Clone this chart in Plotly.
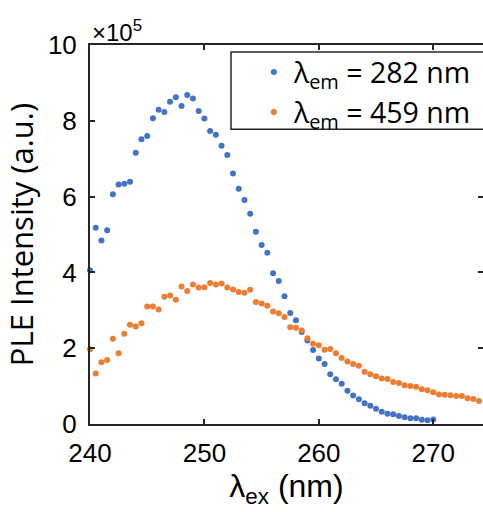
import plotly.graph_objects as go

# Excitation wavelengths (nm)
x_blue = [240 + 0.5 * i for i in range(61)]        # 240 .. 270
x_orange = [240 + 0.5 * i for i in range(69)]      # 240 .. 274

# PLE intensity, units of 1e5
y_blue = [4.06, 5.18, 4.84, 5.11, 6.06, 6.32, 6.34, 6.39, 7.16, 7.51,
          7.60, 8.07, 8.29, 8.23, 8.50, 8.62, 8.39, 8.68, 8.59, 8.26,
          8.06, 7.73, 7.63, 7.34, 7.10, 6.61, 6.21, 5.91, 5.55, 5.07,
          4.72, 4.52, 3.98, 3.77, 3.37, 2.93, 2.74, 2.43, 2.20, 1.95,
          1.73, 1.58, 1.31, 1.18, 1.06, 0.88, 0.75, 0.65, 0.55, 0.48,
          0.40, 0.32, 0.27, 0.26, 0.21, 0.18, 0.15, 0.15, 0.11, 0.10,
          0.12]
y_orange = [1.97, 1.33, 1.63, 1.69, 2.25, 1.87, 2.38, 2.62, 2.57, 2.66,
            3.10, 3.10, 3.02, 3.36, 3.39, 3.28, 3.63, 3.51, 3.68, 3.60,
            3.61, 3.72, 3.68, 3.71, 3.60, 3.55, 3.48, 3.46, 3.54, 3.22,
            3.18, 3.12, 2.97, 2.92, 2.82, 2.55, 2.54, 2.47, 2.26, 2.12,
            2.08, 1.96, 1.98, 1.87, 1.74, 1.65, 1.58, 1.54, 1.38, 1.31,
            1.26, 1.20, 1.19, 1.11, 1.08, 1.02, 1.00, 0.98, 0.92, 0.89,
            0.84, 0.78, 0.77, 0.76, 0.74, 0.74, 0.68, 0.66, 0.61]

x_ticks = [240, 250, 260, 270]
y_ticks = [0, 2, 4, 6, 8, 10]

BLUE = "#4472C4"
ORANGE = "#ED7D31"
AX = "#262626"
SANS = "Liberation Sans, Arial, sans-serif"
UI = "Open Sans, Noto Sans, sans-serif"

fig = go.Figure()
fig.add_trace(go.Scatter(x=x_blue, y=y_blue, mode="markers", cliponaxis=False,
                         marker=dict(color=BLUE, size=6),
                         name="λ<sub>em</sub> = 282 nm"))
fig.add_trace(go.Scatter(x=x_orange, y=y_orange, mode="markers", cliponaxis=False,
                         marker=dict(color=ORANGE, size=6),
                         name="λ<sub>em</sub> = 459 nm"))

fig.update_layout(
    width=483, height=512,
    margin=dict(l=90, r=0, t=45, b=88, autoexpand=False),
    plot_bgcolor="white", paper_bgcolor="white",
    showlegend=True,
    legend=dict(x=0.417, y=0.995, xanchor="left", yanchor="top",
                borderwidth=0, bgcolor="rgba(0,0,0,0)",
                font=dict(family=UI, size=28.5, color="black"),
                tracegroupgap=0, itemwidth=30),
    shapes=[dict(type="rect", xref="paper", yref="paper",
                 x0=0.3588, x1=1.05, y0=0.778, y1=0.9815,
                 line=dict(color=AX, width=1.5), fillcolor="white",
                 layer="above")],
    xaxis=dict(range=[240, 274.35], tickvals=x_ticks, automargin=False,
               ticks="inside", ticklen=5, tickwidth=1.5, tickcolor=AX,
               showline=True, linecolor=AX, linewidth=2, mirror="ticks",
               showgrid=False, zeroline=False,
               tickfont=dict(family=SANS, size=26, color="black"),
               ticklabelstandoff=5,
               title=dict(text="λ<sub>ex</sub> (nm)", standoff=2,
                          font=dict(family=SANS, size=32, color="black"))),
    yaxis=dict(range=[0, 10], tickvals=y_ticks, automargin=False,
               ticks="inside", ticklen=5, tickwidth=1.5, tickcolor=AX,
               showline=True, linecolor=AX, linewidth=2, mirror="ticks",
               showgrid=False, zeroline=False,
               tickfont=dict(family=SANS, size=26, color="black"),
               ticklabelstandoff=6,
               title=dict(text="PLE Intensity (a.u.)", standoff=6,
                          font=dict(family=UI, size=31, color="black"))),
    annotations=[dict(text="×10<sup>5</sup>", xref="paper", yref="paper",
                      x=0, y=1.0, xanchor="left", yanchor="bottom",
                      showarrow=False, yshift=-3,
                      font=dict(family=SANS, size=24, color="black"))],
)

fig.write_html("out.html",
               config={"displayModeBar": False},
               post_script="document.body.style.margin='0';"
                           "document.body.style.overflow='hidden';")
